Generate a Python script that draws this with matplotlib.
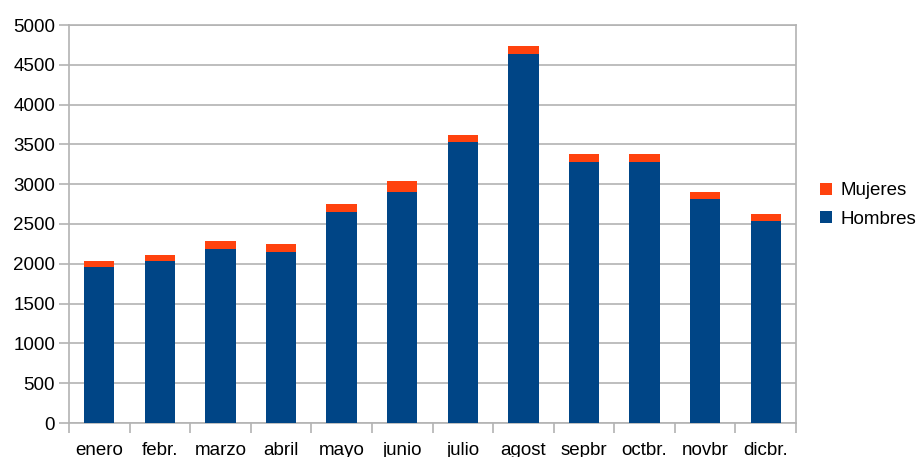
import matplotlib.pyplot as plt
import numpy as np

plt.rcParams['font.family'] = ['Liberation Sans', 'DejaVu Sans']

# monthly counts
meses = ['enero', 'febr.', 'marzo', 'abril', 'mayo', 'junio',
         'julio', 'agost', 'sepbr', 'octbr.', 'novbr', 'dicbr.']
hombres = [1955, 2035, 2190, 2150, 2645, 2900, 3530, 4635, 3275, 3275, 2820, 2540]
mujeres = [75, 75, 100, 95, 100, 140, 85, 105, 100, 100, 80, 85]

azul = '#004586'
naranja = '#ff420e'
gris = '#b3b3b3'

fig = plt.figure(figsize=(9.23, 4.57), dpi=100)
ax = fig.add_axes([69/923, 34/457, (796-69)/923, (423-25)/457])

x = np.arange(len(meses))
b1 = ax.bar(x, hombres, width=0.5, color=azul, label='Hombres', zorder=3)
b2 = ax.bar(x, mujeres, width=0.5, bottom=hombres, color=naranja, label='Mujeres', zorder=3)

ax.set_xlim(-0.5, len(meses) - 0.5)
ax.set_ylim(0, 5000)
ax.set_yticks(np.arange(0, 5001, 500))
ax.yaxis.grid(True, color=gris, linewidth=1.2, zorder=0)

# ticks at category borders, labels centred under the bars
ax.set_xticks(np.arange(-0.5, len(meses), 1))
ax.set_xticklabels([])
ax.set_xticks(x, minor=True)
ax.set_xticklabels(meses, minor=True)
ax.tick_params(axis='x', which='major', length=7, color=gris, width=1.2)
ax.tick_params(axis='x', which='minor', length=0, pad=14, labelsize=13.5)
ax.tick_params(axis='y', length=7, color=gris, width=1.2, labelsize=13.5, pad=3)

for s in ax.spines.values():
    s.set_color(gris)
    s.set_linewidth(1.2)

fig.legend(handles=[b2, b1], labels=['Mujeres', 'Hombres'],
           loc='center left', bbox_to_anchor=(803/923, 1 - 205/457),
           frameon=False, fontsize=13.5, handlelength=0.65, handleheight=0.65,
           handletextpad=0.45, labelspacing=0.6)

plt.savefig('out.png', dpi=100)
